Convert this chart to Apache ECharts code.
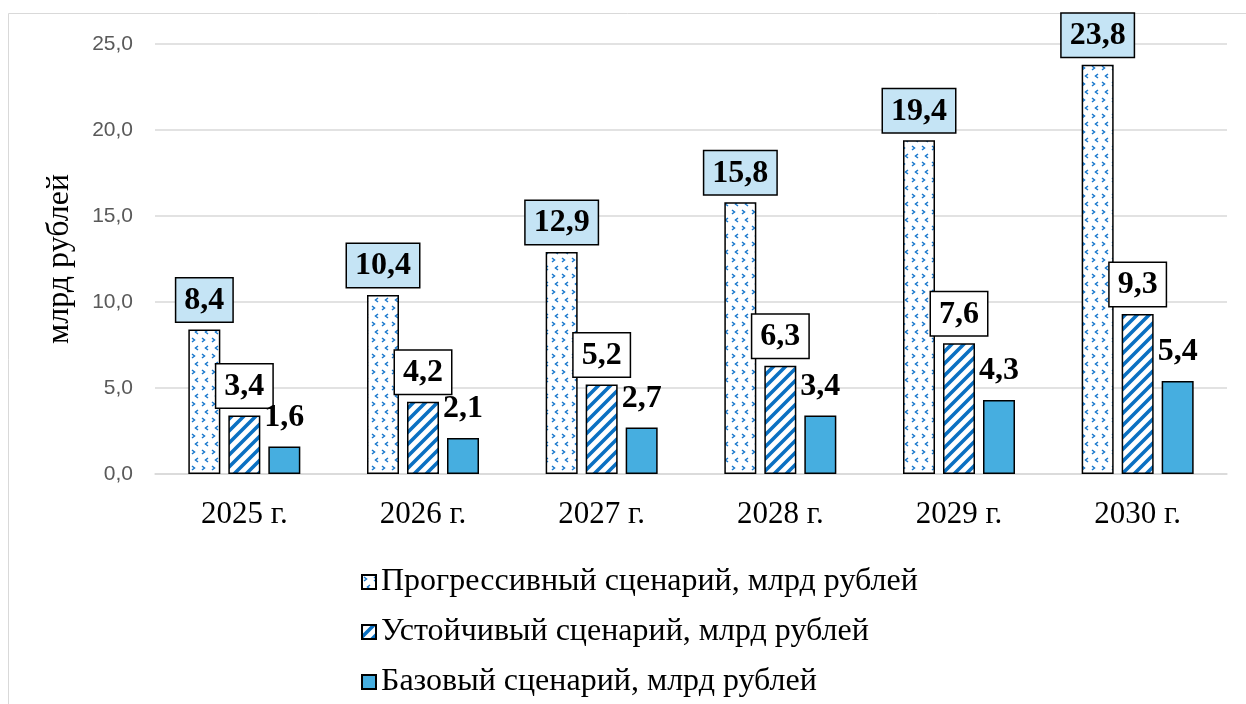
<!DOCTYPE html>
<html>
<head>
<meta charset="utf-8">
<script src="https://cdn.jsdelivr.net/npm/echarts@6/dist/echarts.min.js"></script>
<style>
  html, body { margin: 0; padding: 0; background: #fff; }
  #chart { width: 1246px; height: 704px; }
</style>
</head>
<body>
<div id="chart"></div>
<script>
// Forecast by scenario, billion roubles
const years = ['2025 г.', '2026 г.', '2027 г.', '2028 г.', '2029 г.', '2030 г.'];
const progressive = [8.4, 10.4, 12.9, 15.8, 19.4, 23.8];
const sustainable = [3.4, 4.2, 5.2, 6.3, 7.6, 9.3];
const baseline = [1.6, 2.1, 2.7, 3.4, 4.3, 5.4];
const seriesNames = [
  'Прогрессивный сценарий, млрд рублей',
  'Устойчивый сценарий, млрд рублей',
  'Базовый сценарий, млрд рублей'
];
const yTicks = [0, 5, 10, 15, 20, 25];

// Small chevron tile for the progressive scenario
function dotTile() {
  const c = document.createElement('canvas');
  c.width = 10; c.height = 16;
  const g = c.getContext('2d');
  g.fillStyle = '#fff';
  g.fillRect(0, 0, 10, 16);
  g.strokeStyle = '#1a78cc';
  g.lineWidth = 1.5;
  g.beginPath();
  g.moveTo(2, 2); g.lineTo(4.5, 4); g.lineTo(2, 6);
  g.moveTo(8, 10); g.lineTo(5.5, 12); g.lineTo(8, 14);
  g.stroke();
  return c;
}

// Diagonal stripe tile for the sustainable scenario
function stripeTile() {
  const s = 12;
  const c = document.createElement('canvas');
  c.width = s; c.height = s;
  const g = c.getContext('2d');
  g.fillStyle = '#fff';
  g.fillRect(0, 0, s, s);
  g.strokeStyle = '#0a70c2';
  g.lineWidth = 3.6;
  g.beginPath();
  g.moveTo(-2, s + 2); g.lineTo(s + 2, -2);
  g.moveTo(-2, 2); g.lineTo(2, -2);
  g.moveTo(s - 2, s + 2); g.lineTo(s + 2, s - 2);
  g.stroke();
  return c;
}

const fmt = v => v.toFixed(1).replace('.', ',');

function valueLabel(bg, border) {
  return {
    show: true,
    position: 'top',
    distance: 8,
    formatter: p => fmt(p.value),
    fontFamily: 'Liberation Serif',
    fontWeight: 'bold',
    fontSize: 32,
    color: '#000',
    backgroundColor: bg,
    borderColor: border,
    borderWidth: border === 'transparent' ? 0 : 1.5,
    padding: [6, 8, 5, 8]
  };
}

const chart = echarts.init(document.getElementById('chart'));
chart.setOption({
  animation: false,
  backgroundColor: '#fff',
  graphic: [{
    type: 'rect',
    shape: { x: 8.5, y: 13.5, width: 1400, height: 900 },
    style: { fill: 'none', stroke: '#d9d9d9', lineWidth: 1 },
    silent: true,
    z: -10
  }],
  grid: { left: 155, right: 19, top: 44, bottom: 230 },
  legend: {
    orient: 'vertical',
    left: 356,
    top: 561,
    itemWidth: 14,
    itemHeight: 14,
    itemGap: 18,
    icon: 'rect',
    data: seriesNames,
    textStyle: {
      fontFamily: 'Liberation Serif',
      fontSize: 32,
      color: '#000',
      lineHeight: 32
    }
  },
  xAxis: {
    type: 'category',
    data: years,
    axisTick: { show: false },
    axisLine: { lineStyle: { color: '#d9d9d9', width: 1.5 } },
    axisLabel: {
      margin: 25,
      fontFamily: 'Liberation Serif',
      fontSize: 31,
      color: '#000'
    }
  },
  yAxis: {
    type: 'value',
    min: yTicks[0],
    max: yTicks[yTicks.length - 1],
    interval: 5,
    name: 'млрд рублей',
    nameLocation: 'middle',
    nameGap: 79,
    nameTextStyle: {
      fontFamily: 'Liberation Serif',
      fontSize: 32,
      color: '#000'
    },
    axisLine: { show: false },
    axisTick: { show: false },
    splitLine: { lineStyle: { color: '#d9d9d9', width: 1.5 } },
    axisLabel: {
      margin: 22,
      fontFamily: 'Liberation Sans',
      fontSize: 21,
      color: '#595959',
      formatter: v => fmt(v)
    }
  },
  series: [
    {
      name: seriesNames[0],
      type: 'bar',
      data: progressive,
      barWidth: 32,
      barGap: '25%',
      itemStyle: {
        color: { image: dotTile(), repeat: 'repeat' },
        borderColor: '#000',
        borderWidth: 1.5
      },
      label: valueLabel('#c5e4f5', '#000')
    },
    {
      name: seriesNames[1],
      type: 'bar',
      data: sustainable,
      barWidth: 32,
      barGap: '25%',
      itemStyle: {
        color: { image: stripeTile(), repeat: 'repeat' },
        borderColor: '#000',
        borderWidth: 1.5
      },
      label: valueLabel('#ffffff', '#000')
    },
    {
      name: seriesNames[2],
      type: 'bar',
      data: baseline,
      barWidth: 32,
      barGap: '25%',
      itemStyle: {
        color: '#46aee0',
        borderColor: '#000',
        borderWidth: 1.5
      },
      label: valueLabel('transparent', 'transparent')
    }
  ]
});
</script>
</body>
</html>
